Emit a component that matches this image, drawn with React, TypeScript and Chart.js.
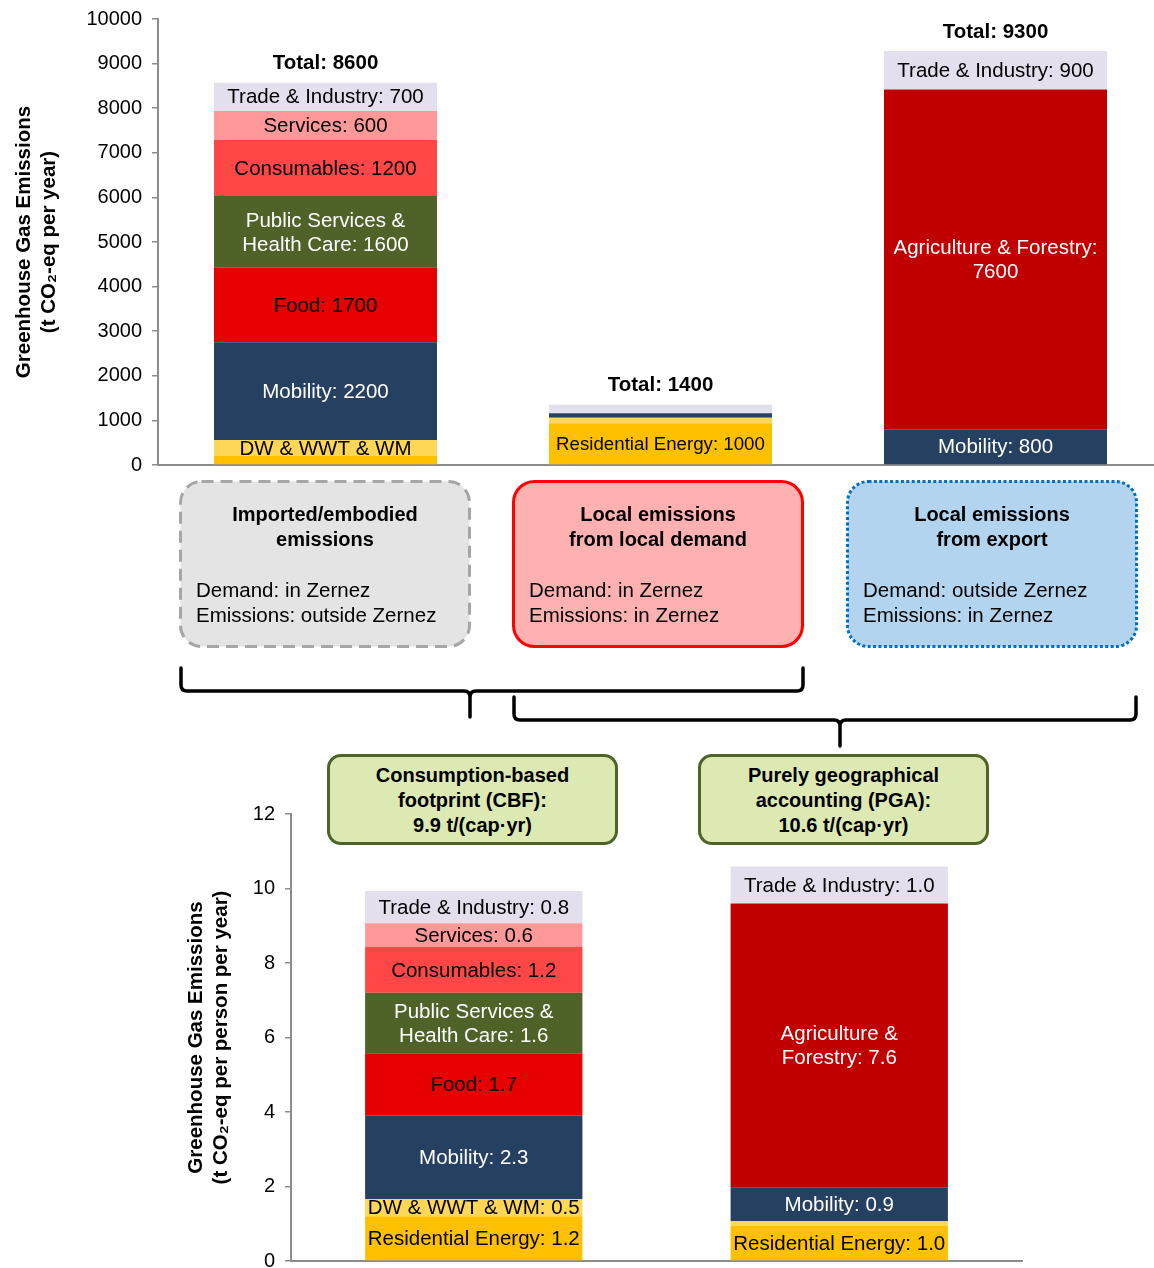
import React, { useEffect, useRef } from "react";
import { Chart, registerables } from "chart.js";

Chart.register(...registerables);

const FONT = '"Liberation Sans", Arial, Helvetica, sans-serif';
const AXIS = "#8c8c8c";

// ---------- Top chart (t CO2-eq per year) ----------
const topCategories = [
  "Imported/embodied emissions",
  "Local emissions from local demand",
  "Local emissions from export",
];
const topResidential = [200, 935, 0];
const topDW = [360, 125, 0];
const topMobility = [2190, 100, 800];
const topAgriculture = [0, 0, 7620];
const topFood = [1670, 0, 0];
const topPublic = [1610, 0, 0];
const topConsumables = [1260, 0, 0];
const topServices = [650, 0, 0];
const topTrade = [630, 190, 860];
const topTotals = [8600, 1400, 9300];

const topResidentialLbl = ["", "Residential Energy: 1000", ""];
const topDWLbl = ["DW & WWT & WM", "", ""];
const topMobilityLbl = ["Mobility: 2200", "", "Mobility: 800"];
const topAgricultureLbl = ["", "", "Agriculture & Forestry:\n7600"];
const topFoodLbl = ["Food: 1700", "", ""];
const topPublicLbl = ["Public Services &\nHealth Care: 1600", "", ""];
const topConsumablesLbl = ["Consumables: 1200", "", ""];
const topServicesLbl = ["Services: 600", "", ""];
const topTradeLbl = ["Trade & Industry: 700", "", "Trade & Industry: 900"];
const topYTicks = { min: 0, max: 10000, step: 1000 };

// ---------- Bottom chart (t CO2-eq per person per year) ----------
const botCategories = ["CBF", "PGA"];
const botResidential = [1.2, 0.94];
const botDW = [0.46, 0.13];
const botMobility = [2.24, 0.91];
const botAgriculture = [0, 7.62];
const botFood = [1.68, 0];
const botPublic = [1.62, 0];
const botConsumables = [1.23, 0];
const botServices = [0.64, 0];
const botTrade = [0.86, 0.99];

const botResidentialLbl = ["Residential Energy: 1.2", "Residential Energy: 1.0"];
const botDWLbl = ["DW & WWT & WM: 0.5", ""];
const botMobilityLbl = ["Mobility: 2.3", "Mobility: 0.9"];
const botAgricultureLbl = ["", "Agriculture &\nForestry: 7.6"];
const botFoodLbl = ["Food: 1.7", ""];
const botPublicLbl = ["Public Services &\nHealth Care: 1.6", ""];
const botConsumablesLbl = ["Consumables: 1.2", ""];
const botServicesLbl = ["Services: 0.6", ""];
const botTradeLbl = ["Trade & Industry: 0.8", "Trade & Industry: 1.0"];
const botYTicks = { min: 0, max: 12, step: 2 };

// ---------- Colours ----------
const C = {
  residential: "#FFC000",
  dw: "#FFD757",
  mobility: "#264061",
  agriculture: "#C00000",
  food: "#E60000",
  publicSvc: "#4F6228",
  consumables: "#FF4747",
  services: "#FF9999",
  trade: "#E4DFEC",
};

function ds(label: string, data: number[], segLabels: string[], color: string, labelColor: string, labelSize?: number) {
  return {
    label,
    data,
    segLabels,
    labelColor,
    labelSize,
    backgroundColor: color,
    borderWidth: 0,
    stack: "s",
  };
}

const segLabelPlugin = {
  id: "segLabels",
  afterDatasetsDraw(chart: any, _args: any, opts: any) {
    const ctx = chart.ctx;
    ctx.save();
    ctx.textAlign = "center";
    ctx.textBaseline = "middle";
    chart.data.datasets.forEach((d: any, di: number) => {
      const meta = chart.getDatasetMeta(di);
      meta.data.forEach((bar: any, i: number) => {
        const txt = d.segLabels ? d.segLabels[i] : "";
        if (!txt) return;
        const { x, y, base } = bar.getProps(["x", "y", "base"], true);
        const cy = (y + base) / 2;
        const lines = txt.split("\n");
        ctx.font = `${d.labelSize || 20.5}px ${FONT}`;
        ctx.fillStyle = d.labelColor;
        lines.forEach((ln: string, k: number) => {
          ctx.fillText(ln, x, cy + (k - (lines.length - 1) / 2) * 24 + 1);
        });
      });
    });
    if (opts && opts.totals) {
      ctx.font = `bold 20.5px ${FONT}`;
      ctx.fillStyle = "#000";
      const yScale = chart.scales.y;
      opts.totals.forEach((t: number, i: number) => {
        let sum = 0;
        chart.data.datasets.forEach((d: any) => (sum += d.data[i] || 0));
        const top = yScale.getPixelForValue(sum);
        const x = chart.getDatasetMeta(0).data[i].x;
        ctx.fillText(`Total: ${t}`, x, top - 19);
      });
    }
    ctx.restore();
  },
};

function makeConfig(p: {
  labels: string[];
  datasets: any[];
  ticks: { min: number; max: number; step: number };
  title: string[];
  titlePad: number;
  axisWidth: number;
  barPct: number;
  padding: any;
  totals?: number[];
}) {
  return {
    type: "bar",
    data: { labels: p.labels, datasets: p.datasets },
    options: {
      responsive: false,
      animation: false,
      devicePixelRatio: 1,
      layout: { padding: p.padding },
      datasets: { bar: { categoryPercentage: 1, barPercentage: p.barPct } },
      plugins: {
        legend: { display: false },
        tooltip: { enabled: false },
        segLabels: { totals: p.totals || null },
      },
      scales: {
        x: {
          stacked: true,
          grid: { display: false, drawTicks: false },
          ticks: { display: false },
          border: { display: true, color: AXIS, width: 2 },
          afterFit: (s: any) => {
            s.height = 0;
          },
        },
        y: {
          stacked: true,
          min: p.ticks.min,
          max: p.ticks.max,
          ticks: {
            stepSize: p.ticks.step,
            color: "#000",
            padding: 10,
            font: { family: FONT, size: 20 },
            callback: (v: any) => String(v),
          },
          grid: {
            drawOnChartArea: false,
            drawTicks: true,
            tickLength: 6,
            color: AXIS,
            lineWidth: 1.5,
          },
          border: { display: true, color: AXIS, width: 2 },
          title: {
            display: true,
            text: p.title,
            color: "#000",
            font: { family: FONT, size: 20.5, weight: "bold", lineHeight: 1.2 },
            padding: { top: p.titlePad, bottom: 0 },
          },
          afterFit: (s: any) => {
            s.width = p.axisWidth;
          },
        },
      },
    },
    plugins: [segLabelPlugin],
  };
}

const topConfig = makeConfig({
  labels: topCategories,
  datasets: [
    ds("Residential Energy", topResidential, topResidentialLbl, C.residential, "#000", 18.7),
    ds("DW & WWT & WM", topDW, topDWLbl, C.dw, "#000"),
    ds("Mobility", topMobility, topMobilityLbl, C.mobility, "#fff"),
    ds("Agriculture & Forestry", topAgriculture, topAgricultureLbl, C.agriculture, "#fff"),
    ds("Food", topFood, topFoodLbl, C.food, "#000"),
    ds("Public Services & Health Care", topPublic, topPublicLbl, C.publicSvc, "#fff"),
    ds("Consumables", topConsumables, topConsumablesLbl, C.consumables, "#000"),
    ds("Services", topServices, topServicesLbl, C.services, "#000"),
    ds("Trade & Industry", topTrade, topTradeLbl, C.trade, "#000"),
  ],
  ticks: topYTicks,
  title: ["Greenhouse Gas Emissions", "(t CO\u2082-eq per year)"],
  titlePad: 12,
  axisWidth: 158,
  barPct: 223 / 335,
  padding: { top: 22, bottom: 23, left: 0, right: 0 },
  totals: topTotals,
});

const botConfig = makeConfig({
  labels: botCategories,
  datasets: [
    ds("Residential Energy", botResidential, botResidentialLbl, C.residential, "#000"),
    ds("DW & WWT & WM", botDW, botDWLbl, C.dw, "#000"),
    ds("Mobility", botMobility, botMobilityLbl, C.mobility, "#fff"),
    ds("Agriculture & Forestry", botAgriculture, botAgricultureLbl, C.agriculture, "#fff"),
    ds("Food", botFood, botFoodLbl, C.food, "#000"),
    ds("Public Services & Health Care", botPublic, botPublicLbl, C.publicSvc, "#fff"),
    ds("Consumables", botConsumables, botConsumablesLbl, C.consumables, "#000"),
    ds("Services", botServices, botServicesLbl, C.services, "#000"),
    ds("Trade & Industry", botTrade, botTradeLbl, C.trade, "#000"),
  ],
  ticks: botYTicks,
  title: ["Greenhouse Gas Emissions", "(t CO\u2082-eq per person per year)"],
  titlePad: 184,
  axisWidth: 291,
  barPct: 217 / 365,
  padding: { top: 24, bottom: 22, left: 0, right: 132 },
});

function ChartCanvas({ config, left, top, width, height }: any) {
  const ref = useRef<HTMLCanvasElement | null>(null);
  useEffect(() => {
    const chart = new Chart(ref.current as HTMLCanvasElement, config as any);
    return () => chart.destroy();
  }, [config]);
  return (
    <canvas
      ref={ref}
      width={width}
      height={height}
      style={{ position: "absolute", left, top, width, height, display: "block" }}
    />
  );
}

const BOX_W = 292;
const BOX_H = 168;

const infoBoxes = [
  {
    left: 179,
    title: ["Imported/embodied", "emissions"],
    body: ["Demand: in Zernez", "Emissions: outside Zernez"],
    bg: "#E4E4E4",
    stroke: "#A6A6A6",
    dash: "12 7",
    cap: "butt",
  },
  {
    left: 512,
    title: ["Local emissions", "from local demand"],
    body: ["Demand: in Zernez", "Emissions: in Zernez"],
    bg: "#FFB0B0",
    stroke: "#FF0000",
    dash: "",
    cap: "butt",
  },
  {
    left: 846,
    title: ["Local emissions", "from export"],
    body: ["Demand: outside Zernez", "Emissions: in Zernez"],
    bg: "#B3D4EE",
    stroke: "#0070C0",
    dash: "3 2.4",
    cap: "butt",
  },
];

const greenBoxes = [
  { left: 327, lines: ["Consumption-based", "footprint (CBF):", "9.9 t/(cap\u00b7yr)"] },
  { left: 698, lines: ["Purely geographical", "accounting (PGA):", "10.6 t/(cap\u00b7yr)"] },
];

function brace(x1: number, x2: number, cx: number, top: number, h: number, bottom: number) {
  const r = 6;
  return (
    `M${x1},${top} L${x1},${h - r} Q${x1},${h} ${x1 + r},${h} L${cx - r},${h} Q${cx},${h} ${cx},${h + r} L${cx},${bottom} ` +
    `M${cx},${h + r} Q${cx},${h} ${cx + r},${h} L${x2 - r},${h} Q${x2},${h} ${x2},${h - r} L${x2},${top}`
  );
}

export default function App() {
  return (
    <div
      style={{
        position: "absolute",
        left: 0,
        top: 0,
        width: 1154,
        height: 1268,
        overflow: "hidden",
        background: "#fff",
        fontFamily: FONT,
        color: "#000",
      }}
    >
      <ChartCanvas config={topConfig} left={0} top={-3} width={1163} height={491} />
      <ChartCanvas config={botConfig} left={0} top={790} width={1154} height={493} />

      {infoBoxes.map((b, i) => (
        <div
          key={i}
          style={{
            position: "absolute",
            left: b.left,
            top: 480,
            width: BOX_W,
            height: BOX_H,
            boxSizing: "border-box",
          }}
        >
          <svg width={BOX_W} height={BOX_H} style={{ position: "absolute", left: 0, top: 0 }}>
            <rect
              x={1.5}
              y={1.5}
              width={BOX_W - 3}
              height={BOX_H - 3}
              rx={21}
              ry={21}
              fill={b.bg}
              stroke={b.stroke}
              strokeWidth={3}
              strokeDasharray={b.dash || undefined}
              strokeLinecap={b.cap as any}
            />
          </svg>
          <div
            style={{
              position: "absolute",
              left: 0,
              top: 0,
              width: BOX_W,
              boxSizing: "border-box",
              padding: "22px 0 0 17px",
              fontSize: 20.5,
              lineHeight: "25px",
            }}
          >
            {b.title.map((t, k) => (
              <div key={k} style={{ fontWeight: "bold", fontSize: 20, textAlign: "center", marginLeft: -17 }}>
                {t}
              </div>
            ))}
            <div style={{ height: 25 }} />
            {b.body.map((t, k) => (
              <div key={k} style={{ whiteSpace: "nowrap" }}>
                {t}
              </div>
            ))}
          </div>
        </div>
      ))}

      <svg
        width={1154}
        height={1268}
        style={{ position: "absolute", left: 0, top: 0, pointerEvents: "none" }}
      >
        <path d={brace(181, 803, 470, 668, 691, 717)} fill="none" stroke="#000" strokeWidth={3.5} strokeLinecap="round" />
        <path d={brace(514, 1136, 840, 697, 720, 746)} fill="none" stroke="#000" strokeWidth={3.5} strokeLinecap="round" />
      </svg>

      {greenBoxes.map((b, i) => (
        <div
          key={i}
          style={{
            position: "absolute",
            left: b.left,
            top: 754,
            width: 291,
            height: 91,
            boxSizing: "border-box",
            background: "#DDE9B3",
            border: "3px solid #4F6228",
            borderRadius: 14,
            paddingTop: 6,
            fontSize: 20,
            fontWeight: "bold",
            lineHeight: "25px",
            textAlign: "center",
          }}
        >
          {b.lines.map((t, k) => (
            <div key={k}>{t}</div>
          ))}
        </div>
      ))}
    </div>
  );
}
